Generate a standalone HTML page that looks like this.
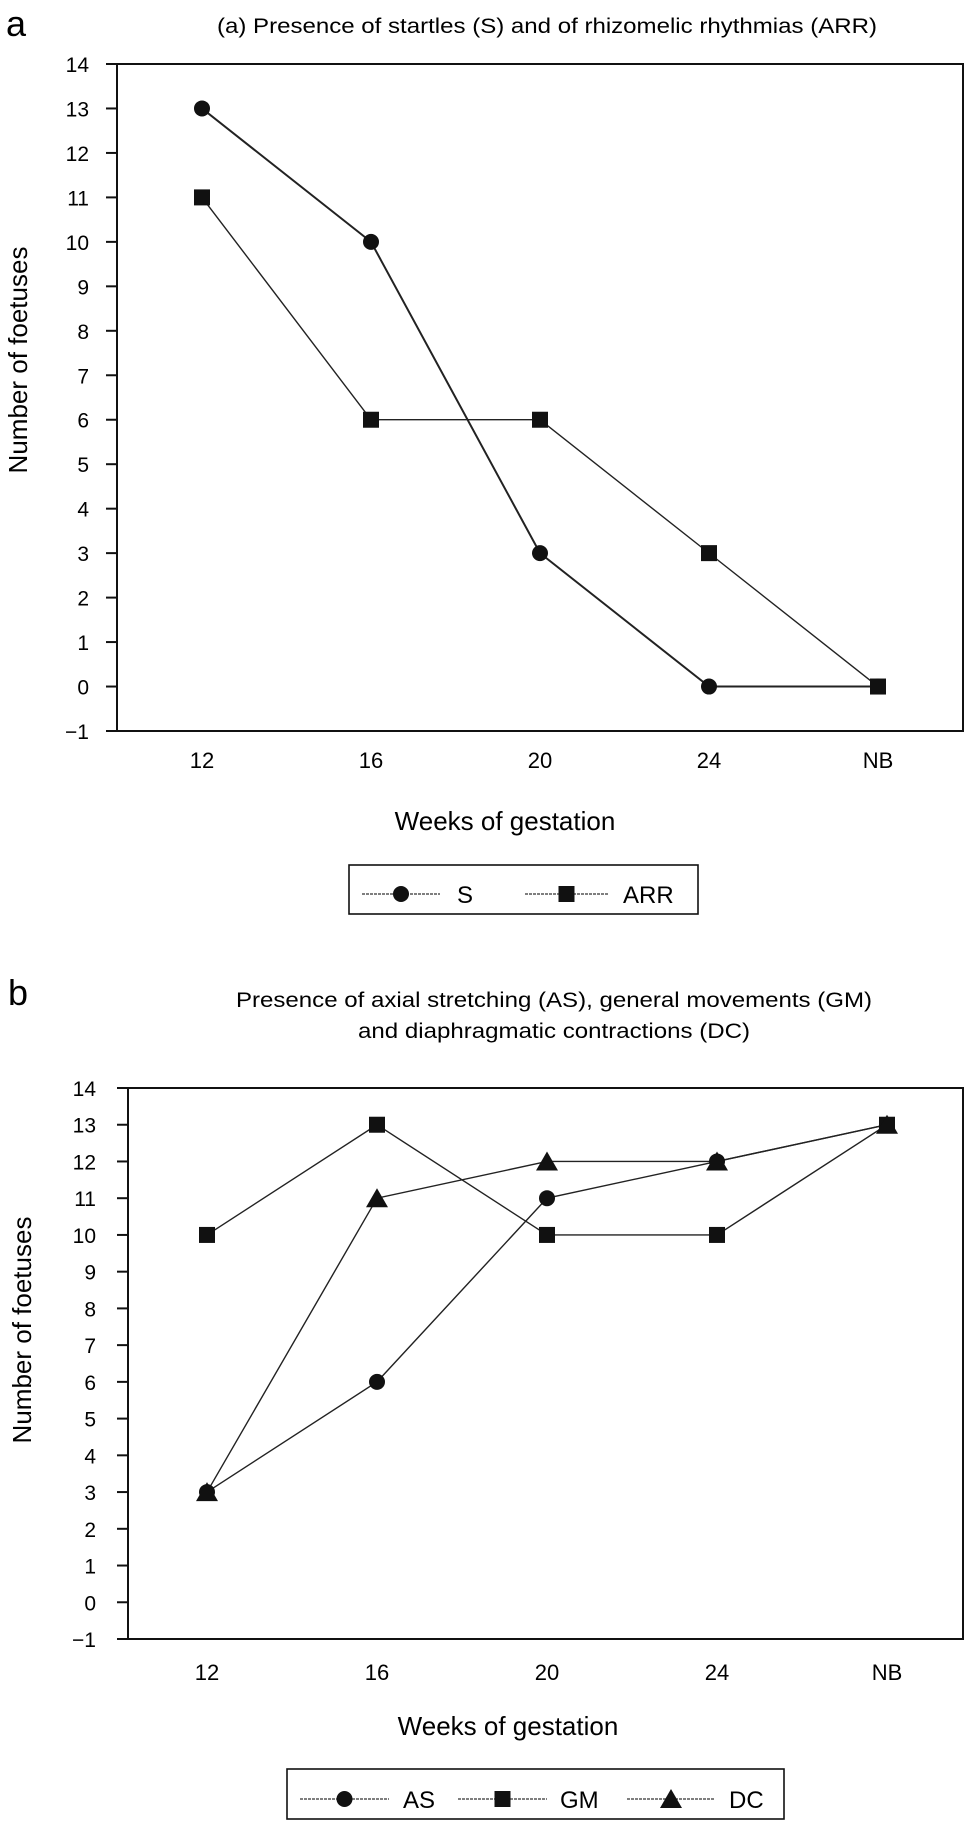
<!DOCTYPE html>
<html><head><meta charset="utf-8">
<style>
html,body{margin:0;padding:0;background:#fff;}
svg{display:block;font-family:"Liberation Sans",Arial,sans-serif;}
</style></head>
<body>
<svg id="fig" width="979" height="1841" viewBox="0 0 979 1841" xmlns="http://www.w3.org/2000/svg">
<text x="6" y="36" font-size="36">a</text>
<text x="217" y="33" font-size="21" textLength="660" lengthAdjust="spacingAndGlyphs">(a) Presence of startles (S) and of rhizomelic rhythmias (ARR)</text>
<text x="505" y="830" font-size="26" text-anchor="middle">Weeks of gestation</text>
<text transform="translate(27,360) rotate(-90)" font-size="26" text-anchor="middle">Number of foetuses</text>
<text x="8" y="1005" font-size="36">b</text>
<text x="554" y="1007" font-size="21" text-anchor="middle" textLength="636" lengthAdjust="spacingAndGlyphs">Presence of axial stretching (AS), general movements (GM)</text>
<text x="554" y="1038" font-size="21" text-anchor="middle" textLength="392" lengthAdjust="spacingAndGlyphs">and diaphragmatic contractions (DC)</text>
<text x="508" y="1735" font-size="26" text-anchor="middle">Weeks of gestation</text>
<text transform="translate(31,1330) rotate(-90)" font-size="26" text-anchor="middle">Number of foetuses</text>
<g id="ca"></g>
<g id="cb"></g>
</svg>
<script>
const categories = ["12","16","20","24","NB"];
const yTicks = [-1,0,1,2,3,4,5,6,7,8,9,10,11,12,13,14];
const seriesS = [13,10,3,0,0];
const seriesARR = [11,6,6,3,0];
const seriesAS = [3,6,11,12,13];
const seriesGM = [10,13,10,10,13];
const seriesDC = [3,11,12,12,13];

const NS = "http://www.w3.org/2000/svg";
function mk(parent, tag, attrs){
  const e = document.createElementNS(NS, tag);
  for (const k in attrs) e.setAttribute(k, attrs[k]);
  parent.appendChild(e);
  return e;
}
function marker(g, type, x, y){
  let m;
  if (type === "circle") m = mk(g, "circle", {cx:x, cy:y, r:8, fill:"#111"});
  else if (type === "square") m = mk(g, "rect", {x:x-8, y:y-8, width:16, height:16, fill:"#111"});
  else m = mk(g, "polygon", {points:`${x},${y-10} ${x-11},${y+9} ${x+11},${y+9}`, fill:"#111"});
  return m;
}
function chart(g, cfg){
  const yS = v => cfg.bottom - (v - (-1)) * (cfg.bottom - cfg.top) / 15;
  const xS = i => cfg.x0 + i * cfg.dx;
  const frame = mk(g, "rect", {x:cfg.left, y:cfg.top, width:cfg.right-cfg.left, height:cfg.bottom-cfg.top, fill:"none", stroke:"#111", "stroke-width":2});
  
  
  yTicks.forEach(v => {
    const y = yS(v);
    const t = mk(g, "line", {x1:cfg.left-11, x2:cfg.left, y1:y, y2:y, stroke:"#111", "stroke-width":2});
    
    
    const l = mk(g, "text", {x:cfg.ylabX, y:y+8, "font-size":21, "text-anchor":"end"});
    l.textContent = v < 0 ? "\u2212" + Math.abs(v) : String(v);
    
    
  });
  categories.forEach((c, i) => {
    const l = mk(g, "text", {x:xS(i), y:cfg.xlabY, "font-size":22, "text-anchor":"middle"});
    l.textContent = c;
    
    
  });
  cfg.series.forEach(s => {
    const pts = s.data.map((v, i) => `${xS(i)},${yS(v)}`).join(" ");
    const pl = mk(g, "polyline", {points:pts, fill:"none", stroke:"#222", "stroke-width":s.w || 1.4});
    
    
  });
  cfg.series.forEach(s => {
    s.data.forEach((v, i) => {
      const m = marker(g, s.m, xS(i), yS(v));
      
      
    });
  });
  const lb = mk(g, "rect", {x:cfg.leg.x, y:cfg.leg.y, width:cfg.leg.w, height:cfg.leg.h, fill:"none", stroke:"#111", "stroke-width":1.6});
  
  
  cfg.leg.items.forEach((it, k) => {
    const s = cfg.series[k];
    const ln = mk(g, "line", {x1:it.x1, x2:it.x2, y1:cfg.leg.ly, y2:cfg.leg.ly, stroke:"#333", "stroke-width":1.2, "stroke-dasharray":"3,1"});
    
    
    const m = marker(g, s.m, (it.x1+it.x2)/2, cfg.leg.ly);
    
    
    const t = mk(g, "text", {x:it.tx, y:cfg.leg.ly+9, "font-size":24});
    t.textContent = s.name;
    
    
  });
}
chart(document.getElementById("ca"), {
  left:117, right:963, top:64, bottom:731, x0:202, dx:169, ylabX:89, xlabY:768,
  series:[{name:"S", data:seriesS, m:"circle", w:2}, {name:"ARR", data:seriesARR, m:"square", w:1.4}],
  leg:{x:349, y:865, w:349, h:49, ly:894, items:[{x1:362,x2:440,tx:457},{x1:525,x2:608,tx:623}]}
});
chart(document.getElementById("cb"), {
  left:128, right:963, top:1088, bottom:1639, x0:207, dx:170, ylabX:96, xlabY:1680,
  series:[{name:"AS", data:seriesAS, m:"circle"}, {name:"GM", data:seriesGM, m:"square"}, {name:"DC", data:seriesDC, m:"triangle"}],
  leg:{x:287, y:1769, w:497, h:50, ly:1799, items:[{x1:300,x2:389,tx:403},{x1:458,x2:547,tx:560},{x1:627,x2:715,tx:729}]}
});
</script>
</body></html>
